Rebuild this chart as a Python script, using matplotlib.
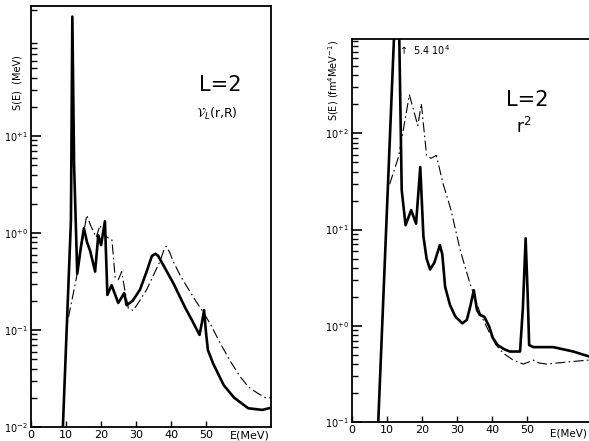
import numpy as np
import matplotlib.pyplot as plt
from matplotlib.ticker import NullFormatter

# left panel: L=2, V_L(r,R)
e_left_solid = [9.1, 10.2, 11.4, 11.8, 12.3, 13.2, 14.2, 15.1, 16.0, 16.9, 18.3, 19.2,
                20.0, 21.1, 21.8, 23.0, 24.9, 26.6, 27.3, 29.0, 31.1, 33.0, 34.5,
                35.5, 36.3, 38.0, 40.7, 42.5, 44.0, 46.0, 48.1, 48.8, 49.4, 50.0,
                50.5, 52.0, 55.0, 58.0, 62.0, 66.0, 68.5]
s_left_solid = [0.01, 0.105, 1.35, 170, 5.0, 0.38, 0.7, 1.12, 0.8, 0.65, 0.40, 0.95,
                0.75, 1.32, 0.23, 0.29, 0.19, 0.24, 0.18, 0.20, 0.26, 0.40, 0.58,
                0.61, 0.58, 0.45, 0.30, 0.22, 0.17, 0.125, 0.089, 0.12, 0.16, 0.09,
                0.062, 0.045, 0.027, 0.020, 0.0156, 0.015, 0.0158]
e_left_dash = [9.1, 10.2, 13.0, 15.9, 17.0, 18.6, 19.7, 20.6, 21.6, 23.1, 24.0, 24.9,
               25.9, 26.6, 27.8, 29.2, 31.0, 33.0, 35.0, 36.9, 38.0, 38.6, 39.5,
               40.7, 42.5, 44.5, 47.0, 49.4, 51.5, 54.0, 57.0, 59.7, 62.0, 64.5,
               67.0, 68.5]
s_left_dash = [0.01, 0.11, 0.35, 1.53, 1.2, 0.9, 1.2, 1.0, 0.91, 0.85, 0.35, 0.33,
               0.40, 0.28, 0.166, 0.159, 0.20, 0.26, 0.37, 0.52, 0.68, 0.73, 0.64,
               0.50, 0.37, 0.28, 0.20, 0.148, 0.11, 0.073, 0.047, 0.033, 0.026,
               0.0225, 0.020, 0.020]

# right panel: L=2, r^2
e_right_solid = [7.5, 12.0, 12.8, 13.5, 14.2, 15.3, 16.9, 18.3, 19.5, 20.4, 21.3, 22.3,
                 23.5, 25.1, 25.8, 26.6, 28.0, 29.5, 31.5, 32.8, 33.8, 34.8, 35.7,
                 36.5, 37.8, 39.2, 40.2, 41.6, 43.5, 45.1, 48.0, 48.8, 49.6, 50.2,
                 50.6, 51.8, 57.5, 63.2, 67.7]
s_right_solid = [0.1, 1000, 54000, 1000, 25.7, 11.1, 15.9, 11.5, 44.6, 8.5, 5.0, 3.85,
                 4.5, 6.9, 5.5, 2.54, 1.64, 1.25, 1.06, 1.15, 1.6, 2.34, 1.46,
                 1.30, 1.24, 0.98, 0.75, 0.63, 0.57, 0.54, 0.54, 1.5, 8.1, 2.0,
                 0.63, 0.60, 0.60, 0.54, 0.48]
e_right_dash = [7.5, 10.2, 13.3, 16.4, 18.8, 19.8, 21.3, 22.6, 24.1, 26.0, 28.3, 30.9,
                33.7, 36.6, 38.0, 39.4, 41.0, 43.2, 46.0, 48.9, 50.5, 51.8, 53.5,
                55.6, 61.3, 67.7]
s_right_dash = [0.1, 25.7, 57, 251, 120, 204, 59, 55, 59, 30, 15.9, 6.1,
                2.76, 1.35, 1.05, 0.83, 0.64, 0.52, 0.44, 0.40, 0.42, 0.44, 0.41,
                0.40, 0.42, 0.44]

xticks = [0, 10, 20, 30, 40, 50]

W, H = 589, 441
fig = plt.figure(figsize=(W / 100, H / 100), dpi=100)


def frac(x0, y0, x1, y1):
    # pixel box -> figure fraction [left, bottom, width, height]
    return [x0 / W, 1 - y1 / H, (x1 - x0) / W, (y1 - y0) / H]


def setup(ax, xmax, ylim, ylabels):
    ax.set_yscale('log')
    ax.set_xticks(xticks)
    ax.set_xticklabels([str(t) for t in xticks], fontsize=8)
    ticks = list(ylabels)
    ax.set_yticks(ticks)
    ax.set_yticklabels([ylabels[t] for t in ticks], fontsize=7)
    minors = [m * 10.0 ** d for d in range(-3, 4) for m in range(2, 10)]
    minors = [v for v in minors if ylim[0] < v < ylim[1]]
    ax.set_yticks(minors, minor=True)
    ax.yaxis.set_minor_formatter(NullFormatter())
    ax.set_xlim(0, xmax)
    ax.set_ylim(*ylim)
    ax.tick_params(axis='x', which='both', direction='in', length=4, width=1, pad=2,
                   top=False)
    ax.tick_params(axis='y', which='major', direction='in', length=7, width=1.2, pad=2,
                   left=True, right=False)
    ax.tick_params(axis='y', which='minor', direction='in', length=4, width=1,
                   left=True, right=False)
    for s in ax.spines.values():
        s.set_linewidth(1.3)


dash = (0, (9, 3, 1.5, 3))

ax1 = fig.add_axes(frac(31, 6, 271, 427))
ax1.plot(e_left_solid, s_left_solid, color='black', lw=1.9, solid_joinstyle='round')
ax1.plot(e_left_dash, s_left_dash, color='black', lw=0.8, linestyle=dash)
setup(ax1, 68.5, (1e-2, 10 ** 2.34),
      {1e-2: r'10$^{-2}$', 1e-1: r'10$^{-1}$', 1: r'10$^{+0}$', 10: r'10$^{+1}$'})
fig.text(250 / W, 1 - 436 / H, 'E(MeV)', fontsize=8, ha='center', va='center')
fig.text(17 / W, 1 - 83 / H, 'S(E)  (MeV)', fontsize=7, rotation=90, ha='center', va='center')
fig.text(220 / W, 1 - 85 / H, 'L=2', fontsize=15, ha='center', va='center')
fig.text(217 / W, 1 - 114 / H, r'$\mathcal{V}_L$(r,R)', fontsize=9, ha='center', va='center')

ax2 = fig.add_axes(frac(352, 39, 589, 422))
ax2.plot(e_right_solid, s_right_solid, color='black', lw=1.9, solid_joinstyle='round')
ax2.plot(e_right_dash, s_right_dash, color='black', lw=0.8, linestyle=dash)
setup(ax2, 67.7, (0.1, 10 ** 2.98),
      {1e-1: r'10$^{-1}$', 1: r'10$^{+0}$', 10: r'10$^{+1}$', 100: r'10$^{+2}$'})
ax2.spines['right'].set_visible(False)
fig.text(568 / W, 1 - 434 / H, 'E(MeV)', fontsize=7.5, ha='center', va='center')
fig.text(334 / W, 1 - 80 / H, r'S(E) (fm$^4$MeV$^{-1}$)', fontsize=7, rotation=90,
         ha='center', va='center')
fig.text(527 / W, 1 - 100 / H, 'L=2', fontsize=15, ha='center', va='center')
fig.text(524 / W, 1 - 127 / H, r'r$^2$', fontsize=12, ha='center', va='center')
fig.text(424 / W, 1 - 50 / H, r'$\uparrow$ 5.4 10$^4$', fontsize=7, ha='center', va='center')

fig.savefig('out.png', dpi=100)
